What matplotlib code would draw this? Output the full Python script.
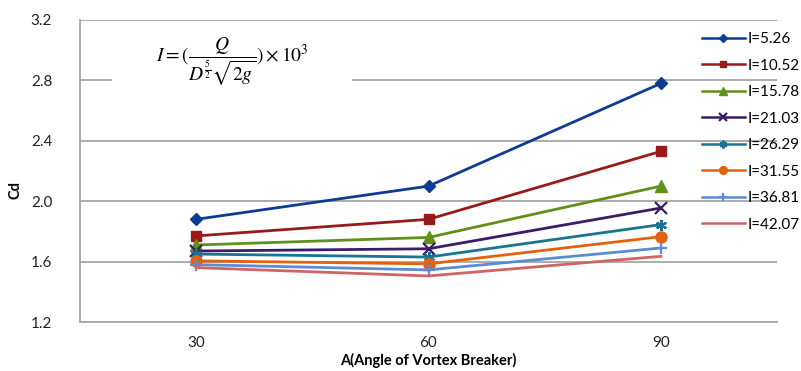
import matplotlib
matplotlib.use("Agg")
import matplotlib.pyplot as plt
from matplotlib.patches import Rectangle

categories = ["30", "60", "90"]
series_labels = ["I=5.26", "I=10.52", "I=15.78", "I=21.03", "I=26.29", "I=31.55", "I=36.81", "I=42.07"]
i_5_26 = [1.88, 2.10, 2.78]
i_10_52 = [1.77, 1.88, 2.33]
i_15_78 = [1.71, 1.76, 2.10]
i_21_03 = [1.67, 1.685, 1.955]
i_26_29 = [1.65, 1.63, 1.845]
i_31_55 = [1.605, 1.585, 1.765]
i_36_81 = [1.58, 1.545, 1.69]
i_42_07 = [1.56, 1.505, 1.635]
series_values = [i_5_26, i_10_52, i_15_78, i_21_03, i_26_29, i_31_55, i_36_81, i_42_07]
y_ticks = [1.2, 1.6, 2.0, 2.4, 2.8, 3.2]

colors = ['#0D3C91', '#981A1A', '#5F901A', '#3A1C68', '#1A7590', '#E4620F', '#5B8BD0', '#D06464']
markers = ['D', 's', '^', 'x', (6, 2, 0), 'o', '+', None]
msizes = [6, 7, 8, 8, 8, 8, 9, 0]

plt.rcParams['font.family'] = ['Lato', 'DejaVu Sans']
plt.rcParams['mathtext.fontset'] = 'stix'

fig = plt.figure(figsize=(8.01, 3.71), dpi=100)
ax = fig.add_axes([80/801, 1-322/371, (777-80)/801, (322-20)/371])

x = list(range(len(categories)))
for vals, lab, c, m, ms in zip(series_values, series_labels, colors, markers, msizes):
    ax.plot(x, vals, color=c, lw=2, marker=m, markersize=ms, label=lab,
            markeredgewidth=1.6 if m in ('x', '+', (6, 2, 0)) else 1,
            markeredgecolor=c, markerfacecolor=c, zorder=3)

ax.set_xlim(-0.5, 2.5)
ax.set_ylim(1.2, 3.2)
ax.set_yticks(y_ticks)
ax.set_yticklabels([f"{v:.1f}" for v in y_ticks])
ax.set_xticks(x)
ax.set_xticklabels(categories)
ax.yaxis.grid(True, color='#A6A6A6', lw=1.3)
ax.set_axisbelow(True)
for s in ['top', 'right']:
    ax.spines[s].set_visible(False)
for s in ['left', 'bottom']:
    ax.spines[s].set_color('#A6A6A6')
    ax.spines[s].set_linewidth(1.3)
ax.tick_params(length=0, labelsize=11, colors='#222222', pad=10)
ax.tick_params(axis='y', pad=20)

ax.set_xlabel("A(Angle of Vortex Breaker)", fontsize=10.5, fontweight='bold', labelpad=2)
fig.text(15/801, 1-190/371, "Cd", rotation=90, fontsize=10.5, fontweight='bold',
         ha='center', va='center')

fig.add_artist(Rectangle((112/801, 1-92/371), (352-112)/801, 60/371,
                         transform=fig.transFigure, facecolor='white', edgecolor='none', zorder=1))
fig.text(232/801, 1-62/371, r'$I=(\dfrac{Q}{D^{\frac{5}{2}}\sqrt{2g}})\times 10^3$',
         fontsize=14, ha='center', va='center', zorder=2)

leg = fig.legend(loc='upper left', bbox_to_anchor=(702/801, 1-32/371), frameon=False,
                 fontsize=11, handlelength=2.8, labelspacing=0.82, handletextpad=0.2,
                 borderaxespad=0, borderpad=0)
for h in leg.legend_handles:
    h.set_markersize(h.get_markersize() * 0.7)
    h.set_linewidth(1.8)

fig.savefig("out.png", dpi=100)
